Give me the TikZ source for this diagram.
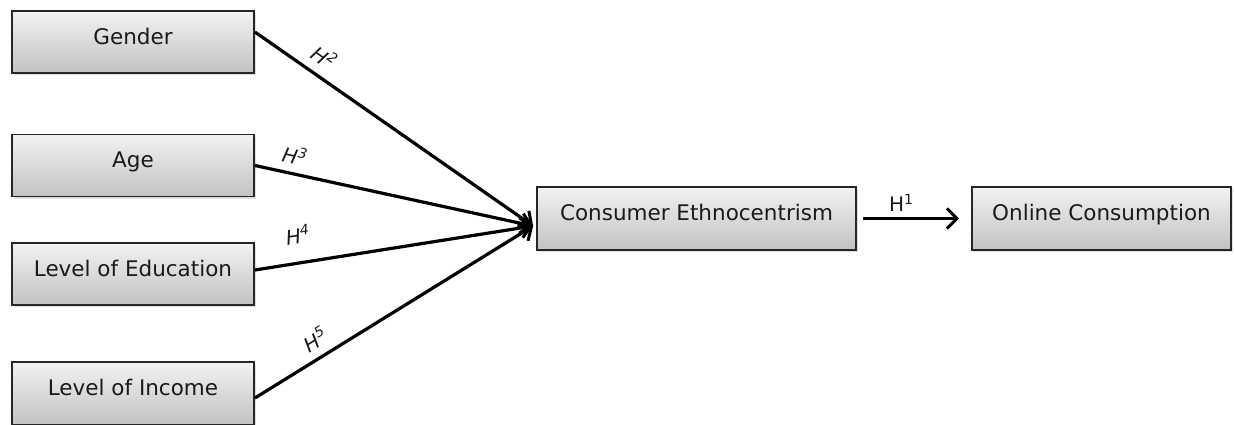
\documentclass[tikz,border=0pt]{standalone}
\usepackage{fontspec}
\setmainfont{DejaVu Sans}
\usetikzlibrary{arrows.meta,shadows,calc}
\definecolor{boxtop}{HTML}{F2F2F2}
\definecolor{boxbot}{HTML}{C2C2C2}
\definecolor{boxline}{HTML}{262626}
\definecolor{ink}{HTML}{1A1A1A}
\tikzset{
  varbox/.style={draw=boxline, line width=1.8pt, top color=boxtop, bottom color=boxbot,
    text=ink, font=\fontsize{21.5}{24}\selectfont, inner sep=0pt,
    text height=16pt, text depth=12pt,
    drop shadow={shadow xshift=1.5pt, shadow yshift=-2pt, opacity=0.25}},
  path/.style={draw=black, line width=3.2pt,
    -{Straight Barb[length=10pt,width=20pt,line width=3pt]}},
  hyp/.style={font=\fontsize{20}{22}\selectfont\itshape, text=ink, sloped, above, inner sep=8pt}
}
\begin{document}
\begin{tikzpicture}[x=1pt,y=-1pt]
  \useasboundingbox (0,0) rectangle (1234,424);
  % explanatory variables
  \node[varbox, minimum width=242pt, minimum height=62pt] (gender) at (133,42) {Gender};
  \node[varbox, minimum width=242pt, minimum height=62pt] (age) at (133,165.5) {Age};
  \node[varbox, minimum width=242pt, minimum height=62pt] (edu) at (133,274) {Level of Education};
  \node[varbox, minimum width=242pt, minimum height=63pt] (inc) at (133,393.5) {Level of Income};
  % mediator and outcome
  \node[varbox, minimum width=319pt, minimum height=63pt] (ce) at (696.5,218.5) {Consumer Ethnocentrism};
  \node[varbox, minimum width=259pt, minimum height=63pt] (oc) at (1101.5,218.5) {Online Consumption};
  % common arrow tip on the mediator
  \coordinate (hub) at ([xshift=-3pt,yshift=-7.5pt]ce.west);
  \draw[path] ([yshift=10pt]gender.east) -- node[hyp, pos=0.21, inner sep=9pt] {H\textsuperscript{2}} (hub);
  \draw[path] (age.east) -- node[hyp, pos=0.13] {H\textsuperscript{3}} (hub);
  \draw[path] ([yshift=4pt]edu.east) -- node[hyp, pos=0.17, yshift=10pt] {H\textsuperscript{4}} (hub);
  \draw[path] ([yshift=-4.5pt]inc.east) -- node[hyp, pos=0.25] {H\textsuperscript{5}} (hub);
  % direct effect
  \draw[path] ([xshift=6pt]ce.east) -- node[above, inner sep=5pt, pos=0.4, text=ink, font=\fontsize{20}{22}\selectfont] {H\textsuperscript{1}} ([xshift=-12pt]oc.west);
\end{tikzpicture}
\end{document}
